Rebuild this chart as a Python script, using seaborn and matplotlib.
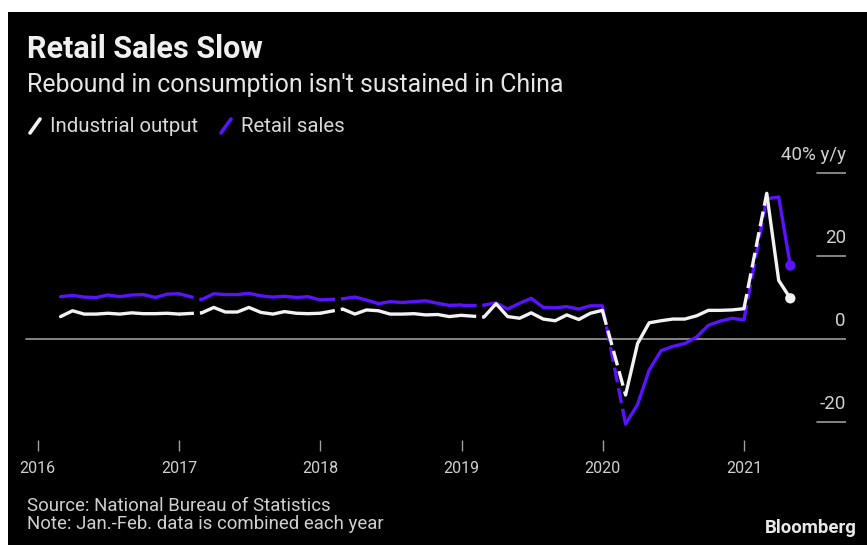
import pandas as pd
import matplotlib
matplotlib.use("Agg")
import matplotlib.pyplot as plt
from matplotlib.lines import Line2D
from matplotlib.patches import Rectangle
import seaborn as sns

# y/y % change, Feb..Dec each year (Jan-Feb combined), then Feb-Apr 2021
industrial_output = [
    5.4, 6.8, 6.0, 6.0, 6.2, 6.0, 6.3, 6.1, 6.1, 6.2, 6.0,
    6.3, 7.6, 6.5, 6.5, 7.6, 6.4, 6.0, 6.6, 6.2, 6.1, 6.2,
    7.2, 6.0, 7.0, 6.8, 6.0, 6.0, 6.1, 5.8, 5.9, 5.4, 5.7,
    5.3, 8.5, 5.4, 5.0, 6.3, 4.8, 4.4, 5.8, 4.7, 6.2, 6.9,
    -13.5, -1.1, 3.9, 4.4, 4.8, 4.8, 5.6, 6.9, 6.9, 7.0, 7.3,
    35.1, 14.1, 9.8,
]
retail_sales = [
    10.2, 10.5, 10.1, 10.0, 10.6, 10.2, 10.6, 10.7, 10.0, 10.8, 10.9,
    9.5, 10.9, 10.7, 10.7, 11.0, 10.4, 10.1, 10.3, 10.0, 10.2, 9.4,
    9.7, 10.1, 9.4, 8.5, 9.0, 8.8, 9.0, 9.2, 8.6, 8.1, 8.2,
    8.2, 8.7, 7.2, 8.6, 9.8, 7.6, 7.5, 7.8, 7.2, 8.0, 8.0,
    -20.5, -15.8, -7.5, -2.8, -1.8, -1.1, 0.5, 3.3, 4.3, 5.0, 4.6,
    33.8, 34.2, 17.7,
]
series_names = ["Industrial output", "Retail sales"]
series_colors = {"Industrial output": "#f2f2f2", "Retail sales": "#5a12ff"}
year_ticks = [2016, 2017, 2018, 2019, 2020, 2021]
y_ticks = [40, 20, 0, -20]
y_tick_labels = ["40% y/y", "20", "0", "-20"]

periods = pd.period_range("2016-02", "2021-04", freq="M")
periods = periods[periods.month != 1]
dates = periods.to_timestamp(how="end").normalize()

df = pd.concat([
    pd.DataFrame({"date": dates, "value": industrial_output, "series": "Industrial output"}),
    pd.DataFrame({"date": dates, "value": retail_sales, "series": "Retail sales"}),
])
df["year"] = df["date"].dt.year

sns.set_style("dark", {"axes.facecolor": "none"})
plt.rcParams["font.family"] = ["Roboto", "DejaVu Sans"]

fig = plt.figure(figsize=(8.67, 5.45), dpi=100, facecolor="white")
fig.patches.append(Rectangle((8 / 867, 0), 1, 1 - 12 / 545, transform=fig.transFigure,
                             facecolor="black", edgecolor="none", zorder=-10))

ax = fig.add_axes([8 / 867, 105 / 545, 838 / 867, 290 / 545])
ax.set_facecolor("none")

lw = 2.4
for name in ["Retail sales", "Industrial output"]:
    s = df[df["series"] == name]
    col = series_colors[name]
    for yr, seg in s.groupby("year"):
        sns.lineplot(data=seg, x="date", y="value", color=col, lw=lw, ax=ax, zorder=3)
        prev = s[s["year"] == yr - 1]
        if len(prev):
            # Dec -> Feb link across the missing January
            link = pd.concat([prev.tail(1), seg.head(1)])
            sns.lineplot(data=link, x="date", y="value", color=col, lw=lw,
                         linestyle=(0, (4.5, 1.8)), ax=ax, zorder=3)
    last = s.tail(1)
    ax.scatter(last["date"], last["value"], s=55, color=col, zorder=4, edgecolor="none")

ax.set_xlim(pd.Timestamp("2015-10-16"), pd.Timestamp("2021-09-21"))
ax.set_ylim(-24.34, 45.54)
for sp in ax.spines.values():
    sp.set_visible(False)
ax.grid(False)
ax.set_xlabel("")
ax.set_ylabel("")

ax.set_xticks([pd.Timestamp(f"{y}-01-01") for y in year_ticks])
ax.set_xticklabels([str(y) for y in year_ticks], color="#d0d0d0", fontsize=11.5)
ax.tick_params(axis="x", bottom=True, direction="out", length=8, width=1,
               color="#a0a0a0", pad=7)
ax.set_yticks([])

for v, lab in zip(y_ticks, y_tick_labels):
    if v == 0:
        ax.axhline(v, xmin=0.022, xmax=1, color="#9a9a9a", lw=1.2, zorder=2)
    else:
        ax.axhline(v, xmin=0.9654, xmax=1, color="#9a9a9a", lw=1.2, zorder=2)
    ax.text(1.0, v + 4.4, lab, transform=ax.get_yaxis_transform(), ha="right",
            va="center", color="#d0d0d0", fontsize=13.5)

fig.text(27 / 867, 1 - 49 / 545, "Retail Sales Slow", fontsize=22, fontweight="bold",
         color="#f0f0f0", va="center")
fig.text(27 / 867, 1 - 85 / 545, "Rebound in consumption isn't sustained in China",
         fontsize=17.9, color="#e6e6e6", va="center")

# legend
lx = [30, 221]
for x0, name in zip(lx, series_names):
    fig.add_artist(Line2D([(x0) / 867, (x0 + 10) / 867],
                          [1 - 133 / 545, 1 - 119 / 545],
                          color=series_colors[name], lw=2.6, transform=fig.transFigure))
    fig.text((x0 + 20) / 867, 1 - 126 / 545, name, fontsize=14.7, color="#d8d8d8",
             va="center")

fig.text(27 / 867, 1 - 506 / 545, "Source: National Bureau of Statistics",
         fontsize=13.4, color="#cfcfcf", va="center")
fig.text(27 / 867, 1 - 524 / 545, "Note: Jan.-Feb. data is combined each year",
         fontsize=13.4, color="#cfcfcf", va="center")
fig.text(857 / 867, 1 - 528 / 545, "Bloomberg", fontsize=13.4, fontweight="bold",
         color="#e8e8e8", ha="right", va="center")

fig.savefig("out.png", dpi=100, facecolor=fig.get_facecolor())
